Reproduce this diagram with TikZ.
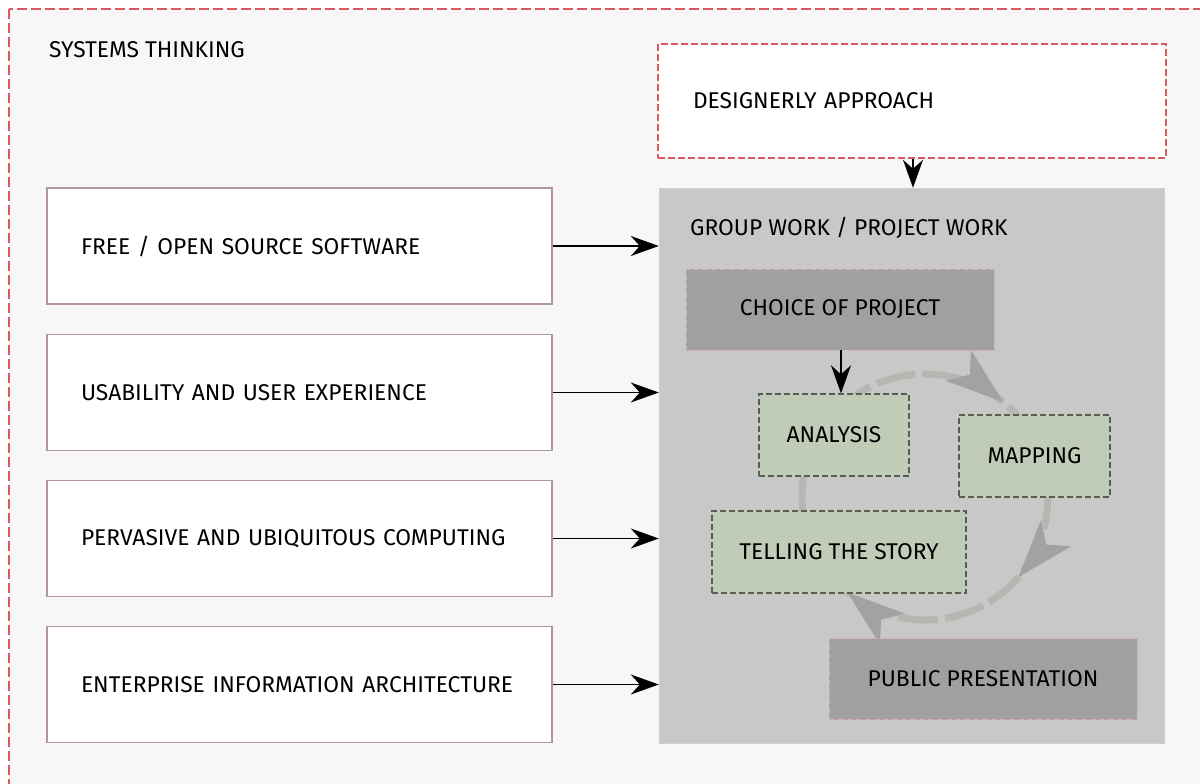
\documentclass[tikz,border=0pt]{standalone}
\usepackage{fontspec}
\setmainfont{Fira Sans}
\usetikzlibrary{arrows.meta}
\definecolor{outerred}{HTML}{D9595E}
\definecolor{bgpanel}{HTML}{F7F7F7}
\definecolor{leftborder}{HTML}{B09898}
\definecolor{groupgray}{HTML}{C8C8C8}
\definecolor{darkgray}{HTML}{A0A0A0}
\definecolor{pinkline}{HTML}{D6AFAF}
\definecolor{greenfill}{HTML}{C0CCB8}
\definecolor{greenline}{HTML}{55604F}
\definecolor{ringcol}{HTML}{B4B8B0}
\definecolor{headcol}{HTML}{A2A2A2}
\newcommand{\mytxt}{\fontsize{22.8}{27}\selectfont}
\newcommand{\ringhead}[1]{%
  \pgfmathsetmacro{\myTx}{925+123*cos(#1)}%
  \pgfmathsetmacro{\myTy}{497-123*sin(#1)}%
  \pgfmathsetmacro{\myDx}{sin(#1)}%
  \pgfmathsetmacro{\myDy}{cos(#1)}%
  \fill[headcol] (\myTx,\myTy)
    -- ({\myTx-58*\myDx-20*\myDy},{\myTy-58*\myDy+20*\myDx})
    -- ({\myTx-43*\myDx},{\myTy-43*\myDy})
    -- ({\myTx-58*\myDx+20*\myDy},{\myTy-58*\myDy-20*\myDx}) -- cycle;%
}
\begin{document}
\begin{tikzpicture}[x=1pt,y=-1pt,
  lefttext/.style={font=\mytxt, text=black},
  leftbox/.style={draw=leftborder, line width=1.8pt, fill=white, minimum width=505pt, minimum height=116pt, text width=437pt, inner xsep=34pt, align=left, font=\mytxt},
  graybox/.style={draw=pinkline, dash pattern=on 6pt off 3pt, line width=0.8pt, fill=darkgray, minimum width=308pt, minimum height=81pt, font=\mytxt},
  greenbox/.style={draw=greenline, dash pattern=on 6pt off 3pt, line width=1.4pt, fill=greenfill, minimum height=82pt, font=\mytxt},
  conn/.style={line width=1.6pt, -{Stealth[length=28pt, width=20pt, inset=9pt]}},
  ring/.style={ringcol, line width=7pt, dash pattern=on 40pt off 7pt}
]
\useasboundingbox (0,0) rectangle (1200,784);
\fill[white] (0,0) rectangle (1200,784);
\begin{scope}
\clip (0,0) rectangle (1200,784);
\draw[outerred, line width=1.6pt, dash pattern=on 10pt off 4pt, fill=bgpanel] (9,9) rectangle (1230,820);
\end{scope}
\node[lefttext, anchor=west, inner xsep=0pt] (sys) at (49,50) {SYSTEMS THINKING};

\node[draw=outerred, dash pattern=on 7pt off 3pt, line width=1.6pt, fill=white, minimum width=508pt, minimum height=114pt, text width=438pt, inner xsep=35pt, align=left, font=\mytxt] (design) at (912,101) {DESIGNERLY APPROACH};

\node[fill=groupgray, draw=groupgray!85!white, minimum width=505pt, minimum height=555pt, inner sep=0pt] (group) at (911.5,465.5) {};
\node[lefttext, anchor=west, inner xsep=0pt] (grouptitle) at (690,228) {GROUP WORK / PROJECT WORK};

\draw[conn] (design.south -| 913,0) -- (group.north -| 913,0);

\node[leftbox] (free) at (299.5,246) {FREE / OPEN SOURCE SOFTWARE};
\node[leftbox] (usab) at (299.5,392.5) {USABILITY AND USER EXPERIENCE};
\node[leftbox] (perv) at (299.5,538.5) {PERVASIVE AND UBIQUITOUS COMPUTING};
\node[leftbox] (ent) at (299.5,684.5) {ENTERPRISE INFORMATION ARCHITECTURE};

\foreach \n in {free,usab,perv,ent}{
  \draw[conn] (\n.east) -- (\n.east -| group.west);
}

% ring
\coordinate (ringc) at (925,497);
\draw[ring] (ringc) ++(135:123pt) arc[start angle=135, end angle=-225, radius=123pt];
\ringhead{50.6}
\ringhead{-40.7}
\ringhead{-129}

\node[graybox] (choice) at (840,309.5) {CHOICE OF PROJECT};
\node[graybox] (public) at (983,679) {PUBLIC PRESENTATION};
\node[greenbox, minimum width=150pt] (analysis) at (834,435) {ANALYSIS};
\node[greenbox, minimum width=151pt] (mapping) at (1034.5,456) {MAPPING};
\node[greenbox, minimum width=254pt] (story) at (839,552) {TELLING THE STORY};

\draw[conn] (choice.south -| 841,0) -- (analysis.north -| 841,0);
\end{tikzpicture}
\end{document}
